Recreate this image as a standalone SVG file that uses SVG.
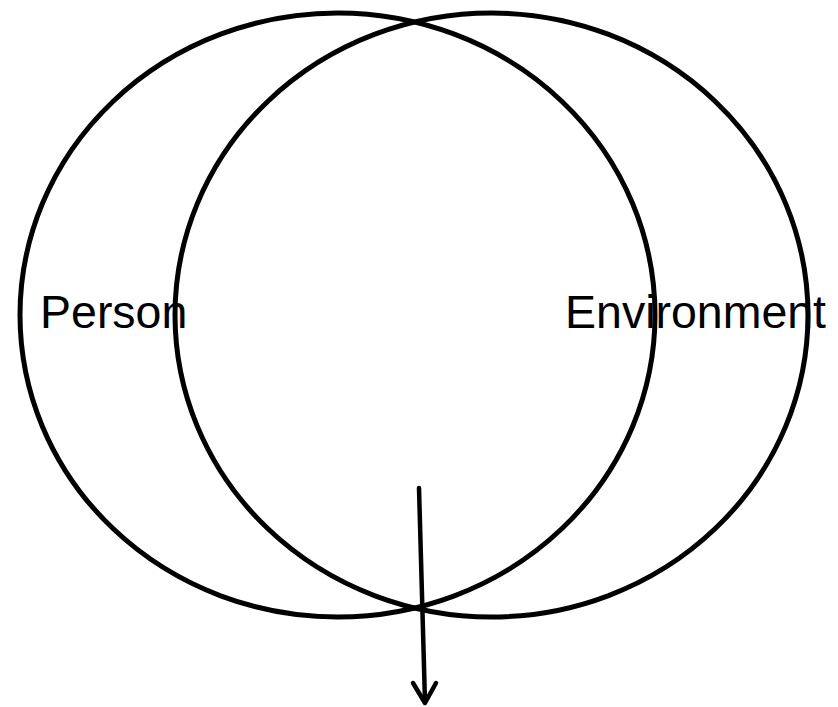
<svg xmlns="http://www.w3.org/2000/svg" width="838" height="707" viewBox="0 0 838 707">
<style>
.c{fill:none;stroke:#000;stroke-width:5}
.t{font-family:"Liberation Sans",Arial,sans-serif;font-size:46.5px;fill:#000}
.a{fill:none;stroke:#000;stroke-width:4.5;stroke-linecap:round;stroke-linejoin:round}
</style>
<rect width="838" height="707" fill="#fff"/>
<g id="person">
<ellipse class="c" cx="337.5" cy="315" rx="317.5" ry="302"/>
<text class="t" x="40" y="328">Person</text>
</g>
<g id="environment">
<ellipse class="c" cx="491.5" cy="315" rx="316.5" ry="302"/>
<text class="t" x="565" y="328">Environment</text>
</g>
<g id="connectors">
<line class="a" x1="419" y1="488" x2="425" y2="702"/>
<polyline class="a" points="413,683 425,703 436,683"/>
</g>
</svg>
